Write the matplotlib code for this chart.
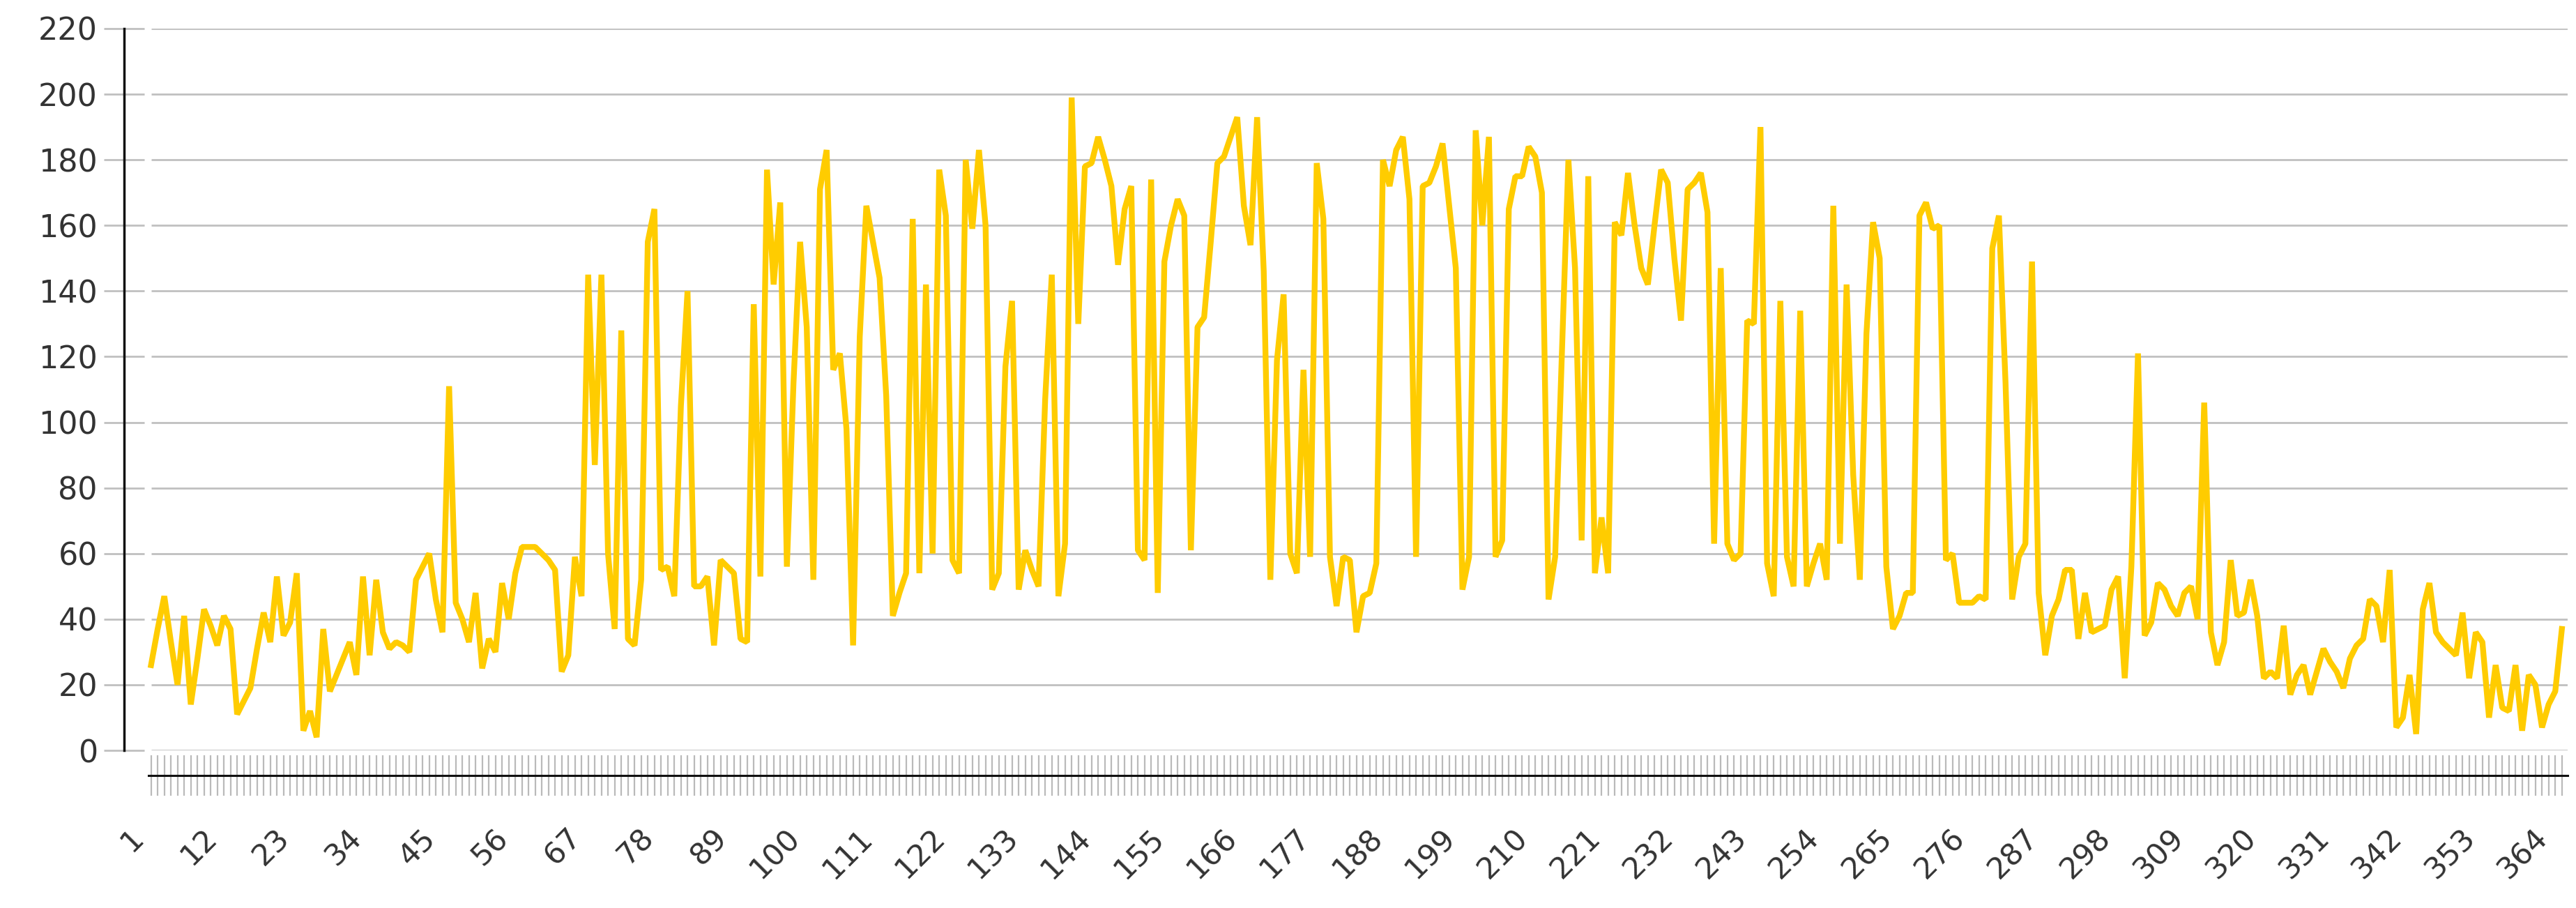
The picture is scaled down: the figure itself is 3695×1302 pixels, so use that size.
import numpy as np
import matplotlib
matplotlib.use('Agg')
import matplotlib.pyplot as plt
from matplotlib.transforms import blended_transform_factory

# day of year 1..365
days = np.arange(1, 366)

# daily values
values = [
    26, 37, 47, 33, 20, 41, 14, 28, 43, 38,
    32, 41, 37, 11, 15, 19, 31, 42, 33, 53,
    35, 39, 54, 6, 12, 4, 37, 18, 23, 28,
    33, 23, 53, 29, 52, 36, 31, 33, 32, 30,
    52, 56, 60, 46, 36, 111, 45, 40, 33, 48,
    25, 34, 30, 51, 40, 54, 62, 62, 62, 60,
    58, 55, 24, 29, 59, 47, 145, 87, 145, 60,
    37, 128, 34, 32, 52, 155, 165, 55, 56, 47,
    105, 140, 50, 50, 53, 32, 58, 56, 54, 34,
    33, 136, 53, 177, 142, 167, 56, 112, 155, 129,
    52, 171, 183, 116, 121, 98, 32, 126, 166, 155,
    144, 108, 41, 48, 54, 162, 54, 142, 60, 177,
    163, 58, 54, 180, 159, 183, 160, 49, 54, 117,
    137, 49, 61, 55, 50, 107, 145, 47, 63, 199,
    130, 178, 179, 187, 180, 172, 148, 165, 172, 61,
    58, 174, 48, 149, 160, 168, 163, 61, 129, 132,
    155, 179, 181, 187, 193, 166, 154, 193, 146, 52,
    119, 139, 60, 54, 116, 59, 179, 162, 59, 44,
    59, 58, 36, 47, 48, 57, 180, 172, 183, 187,
    168, 59, 172, 173, 178, 185, 166, 147, 49, 59,
    189, 160, 187, 59, 64, 165, 175, 175, 184, 181,
    170, 46, 59, 120, 180, 147, 64, 175, 54, 71,
    54, 161, 157, 176, 160, 147, 142, 160, 177, 173,
    150, 131, 171, 173, 176, 164, 63, 147, 63, 58,
    60, 131, 130, 190, 57, 47, 137, 59, 50, 134,
    50, 57, 63, 52, 166, 63, 142, 84, 52, 127,
    161, 150, 56, 37, 41, 48, 48, 163, 167, 159,
    160, 58, 60, 45, 45, 45, 47, 46, 153, 163,
    112, 46, 59, 63, 149, 48, 29, 41, 46, 55,
    55, 34, 48, 36, 37, 38, 49, 53, 22, 56,
    121, 35, 39, 51, 49, 44, 41, 48, 50, 40,
    106, 36, 26, 33, 58, 41, 42, 52, 41, 22,
    24, 22, 38, 17, 23, 26, 17, 24, 31, 27,
    24, 19, 28, 32, 34, 46, 44, 33, 55, 7,
    10, 23, 5, 43, 51, 36, 33, 31, 29, 42,
    22, 36, 33, 10, 26, 13, 12, 26, 6, 23,
    20, 7, 14, 18, 37,
]

y_ticks = [0, 20, 40, 60, 80, 100, 120, 140, 160, 180, 200, 220]
x_labels = ['1', '12', '23', '34', '45', '56', '67', '78', '89', '100',
            '111', '122', '133', '144', '155', '166', '177', '188', '199',
            '210', '221', '232', '243', '254', '265', '276', '287', '298',
            '309', '320', '331', '342', '353', '364']

line_color = '#FFCC00'
grid_color = '#c0c0c0'
text_color = '#333333'

fig = plt.figure(figsize=(36.95, 13.02), dpi=100)
ax = fig.add_axes([178 / 3695, 226 / 1302, 3505 / 3695, 1035 / 1302])

x_min, x_max = -3.07, 365.87
ax.set_xlim(x_min, x_max)
ax.set_ylim(0, 220)

# horizontal grid starting at the first day
ax.hlines(y_ticks, 1, x_max, colors=grid_color, linewidth=2, zorder=1)

ax.plot(days, values, color=line_color, linewidth=6,
        solid_joinstyle='bevel', zorder=3)

# y axis
ax.set_yticks(y_ticks)
ax.tick_params(axis='y', direction='inout', length=41.8, width=2,
               color=grid_color, labelsize=32, labelcolor=text_color, pad=6.5)

# x axis: a tick for every day, a label every 11 days (drawn as text)
ax.set_xticks(days)
ax.set_xticklabels([])
ax.tick_params(axis='x', direction='inout', length=41.8,
               width=1.6, color='#bababa')
trans = blended_transform_factory(ax.transData, ax.transAxes)
for lab in x_labels:
    ax.text(int(lab) - 1.8, -0.115, lab, transform=trans, rotation=45,
            rotation_mode='anchor', ha='right', va='center',
            fontsize=31, color=text_color, clip_on=False)

ax.spines['top'].set_visible(False)
ax.spines['right'].set_visible(False)
ax.spines['left'].set_linewidth(2.5)
ax.spines['left'].set_color('#111111')
ax.spines['bottom'].set_position(('outward', 25.9))
ax.spines['bottom'].set_bounds(0.6, x_max)
ax.spines['bottom'].set_linewidth(2.2)
ax.spines['bottom'].set_color('#111111')

fig.savefig('out.png', dpi=100)
plt.close(fig)
